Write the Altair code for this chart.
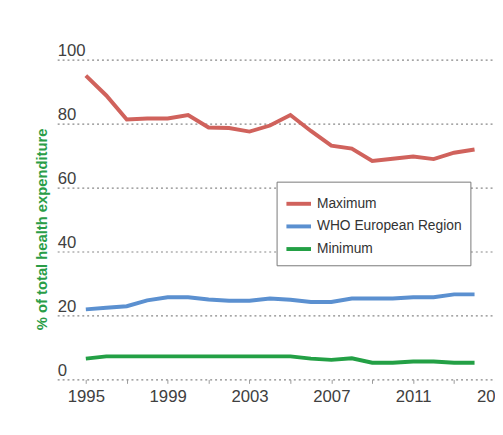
import altair as alt
import pandas as pd

years = list(range(1995, 2015))
maximum = [95.0, 88.8, 81.3, 81.6, 81.6, 82.7, 78.8, 78.6, 77.5, 79.4,
           82.7, 77.7, 73.1, 72.2, 68.3, 69.0, 69.7, 68.9, 70.9, 71.9]
who_europe = [21.9, 22.4, 22.9, 24.7, 25.7, 25.7, 25.0, 24.6, 24.6, 25.3,
              24.9, 24.2, 24.2, 25.3, 25.3, 25.3, 25.7, 25.7, 26.6, 26.6]
minimum = [6.5, 7.2, 7.2, 7.2, 7.2, 7.2, 7.2, 7.2, 7.2, 7.2,
           7.2, 6.5, 6.1, 6.6, 5.2, 5.2, 5.6, 5.6, 5.2, 5.2]
series_names = ["Maximum", "WHO European Region", "Minimum"]
series_colors = ["#d0625c", "#5b90d0", "#23a045"]
y_ticks = [0, 20, 40, 60, 80, 100]
x_ticks = list(range(1995, 2016, 2))

FONT = "Liberation Sans, Arial, sans-serif"

rows = []
for name, vals in zip(series_names, [maximum, who_europe, minimum]):
    for yr, v in zip(years, vals):
        rows.append({"year": yr, "value": v, "series": name})
df = pd.DataFrame(rows)

chart = alt.Chart(df).mark_line(strokeWidth=4).encode(
    x=alt.X("year:Q",
            scale=alt.Scale(domain=[1993.6, 2015.0], nice=False, zero=False),
            axis=alt.Axis(values=x_ticks, format="d",
                          labelExpr="(datum.value - 1995) % 4 == 0 ? datum.label : ''",
                          grid=False, domain=False, ticks=True, tickSize=4,
                          tickColor="#999999", tickWidth=1,
                          labelFontSize=17, labelFont=FONT, labelColor="#404040",
                          labelPadding=5, labelOverlap=False, labelFlush=False,
                          title=None)),
    y=alt.Y("value:Q",
            scale=alt.Scale(domain=[0, 100], nice=False),
            axis=alt.Axis(values=y_ticks, grid=True, gridDash=[2, 3],
                          gridColor="#888888", gridWidth=1.2,
                          domain=False, ticks=False, tickSize=0,
                          labelAlign="left", labelBaseline="alphabetic",
                          labelPadding=0, labelOffset=-4,
                          labelFontSize=17, labelFont=FONT, labelColor="#404040",
                          title="% of total health expenditure",
                          titleColor="#2a9d47", titleFont=FONT, titleFontSize=15,
                          titleFontWeight="bold", titleAngle=270,
                          titleX=-16, titleY=172, titleAlign="center",
                          titleBaseline="middle")),
    color=alt.Color("series:N",
                    scale=alt.Scale(domain=series_names, range=series_colors),
                    legend=alt.Legend(orient="none", legendX=223, legendY=124,
                                      strokeColor="#777777", fillColor="white",
                                      padding=8, symbolType="stroke",
                                      symbolStrokeWidth=4, symbolSize=625,
                                      labelFontSize=14, labelFont=FONT,
                                      labelColor="#333333", title=None,
                                      labelLimit=0,
                                      rowPadding=-4, labelOffset=4)),
).properties(
    width=445, height=325,
    autosize=alt.AutoSizeParams(type="none"),
    padding={"left": 50, "top": 49, "right": 0, "bottom": 53},
).configure_view(stroke=None)

chart.save("out.html", embed_options={"renderer": "svg", "actions": False})
